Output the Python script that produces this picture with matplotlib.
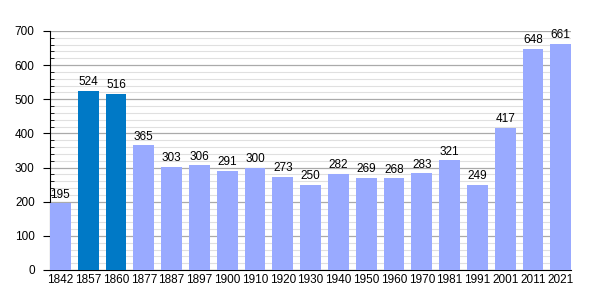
import matplotlib
matplotlib.use("Agg")
import matplotlib.pyplot as plt
from matplotlib.ticker import MultipleLocator

plt.rcParams['font.family'] = ['Liberation Sans', 'DejaVu Sans']

years = ['1842', '1857', '1860', '1877', '1887', '1897', '1900', '1910', '1920', '1930',
         '1940', '1950', '1960', '1970', '1981', '1991', '2001', '2011', '2021']
population = [195, 524, 516, 365, 303, 306, 291, 300, 273, 250,
              282, 269, 268, 283, 321, 249, 417, 648, 661]
highlight = ['1857', '1860']

dark = '#0079c6'
light = '#99aaff'

fig = plt.figure(figsize=(6, 3), dpi=100)
ax = fig.add_axes([0.0833, 0.1, 0.8687, 0.797])

w = 0.75
x = list(range(len(years)))
colors = [dark if y in highlight else light for y in years]
ax.bar(x, population, width=w, color=colors, zorder=3)
for xi, v in zip(x, population):
    ax.text(xi, v + 8, str(v), ha='center', va='bottom', fontsize=8.5, zorder=4)

ax.set_xlim(-w / 2, len(years) - 1 + w / 2)
ax.set_ylim(0, 700)
ax.set_xticks(x)
ax.set_xticklabels(years, fontsize=8.5)
ax.yaxis.set_major_locator(MultipleLocator(100))
ax.yaxis.set_minor_locator(MultipleLocator(20))
ax.tick_params(axis='y', which='major', labelsize=8.5, direction='out', length=5, pad=6)
ax.tick_params(axis='y', which='minor', direction='in', length=3)
ax.tick_params(axis='x', length=0, pad=3)

ax.grid(axis='y', which='major', color='#aaaaaa', linewidth=0.9, zorder=0)
ax.grid(axis='y', which='minor', color='#e0e0e0', linewidth=0.8, zorder=0)
for s in ['top', 'right']:
    ax.spines[s].set_visible(False)

fig.savefig('out.png', dpi=100)
